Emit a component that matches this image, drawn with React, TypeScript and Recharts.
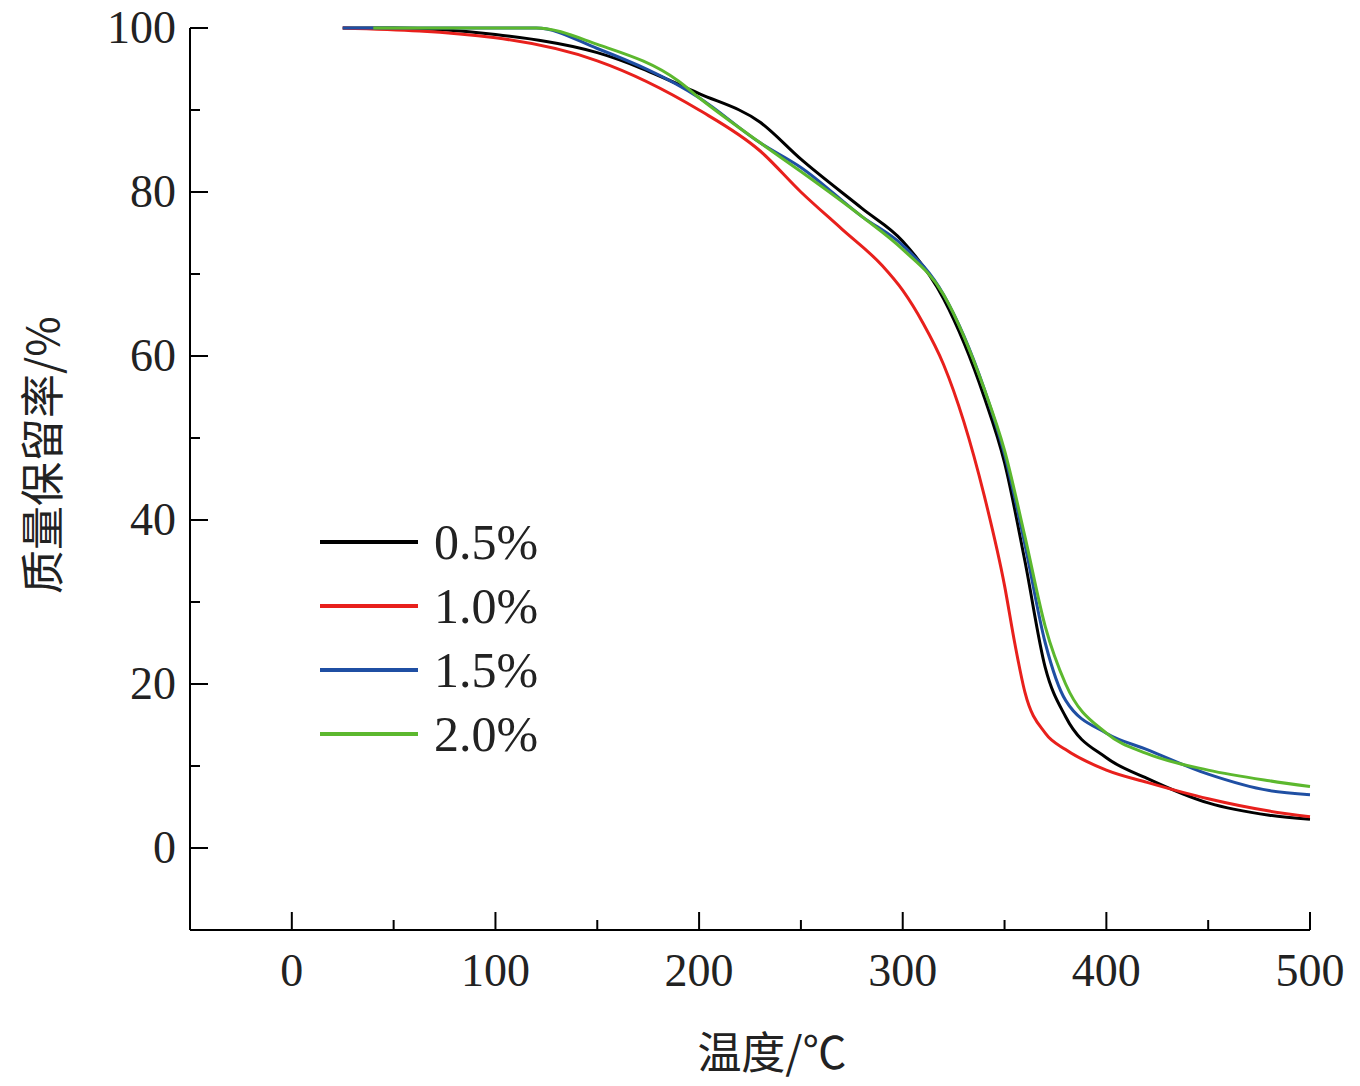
import React from 'react';
import { LineChart, Line, XAxis, YAxis } from 'recharts';

const temps05 = [25, 50, 100, 150, 200, 230, 250, 280, 300, 320, 340, 350, 360, 370, 380, 400, 420, 450, 480, 500];
const mass05 = [100, 100, 99.2, 97, 92, 88.5, 84, 78, 74, 67, 55, 47, 35, 22, 16, 11, 8.5, 5.5, 4, 3.5];
const temps10 = [25, 100, 150, 200, 230, 250, 270, 290, 300, 310, 320, 330, 340, 350, 355, 360, 370, 380, 400, 420, 450, 480, 500];
const mass10 = [100, 98.8, 96, 90, 85, 80, 75.5, 71, 68, 64, 59, 52, 43, 32, 25, 19, 14, 12, 9.5, 8, 6, 4.5, 3.8];
const temps15 = [25, 120, 150, 200, 230, 250, 280, 300, 320, 340, 350, 360, 370, 380, 400, 420, 450, 480, 500];
const mass15 = [100, 100, 97.5, 91.5, 86, 83, 77, 73.5, 67.5, 56, 48, 37, 25, 18, 14, 12, 9, 7, 6.5];
const temps20 = [40, 120, 150, 190, 200, 230, 250, 280, 300, 320, 340, 350, 360, 370, 380, 400, 420, 450, 480, 500];
const mass20 = [100, 100, 98, 93.5, 91.5, 86, 82.5, 77, 73, 67.5, 56, 48.5, 38, 27, 20, 14, 11.5, 9.5, 8.2, 7.5];

const seriesNames = ['0.5%', '1.0%', '1.5%', '2.0%'];
const seriesColors = ['#000000', '#e8201c', '#1f4fa3', '#5cb82e'];
const xTicks = [-50, 0, 50, 100, 150, 200, 250, 300, 350, 400, 450, 500];
const yTicks = [-10, 0, 10, 20, 30, 40, 50, 60, 70, 80, 90, 100];

const toRows = (t: number[], m: number[]) => t.map((x, i) => ({ t: x, m: m[i] }));
const series = [
  toRows(temps05, mass05),
  toRows(temps10, mass10),
  toRows(temps15, mass15),
  toRows(temps20, mass20),
];

const font = '"Liberation Serif", serif';

const XTick = ({ x, y, payload }: any) => {
  const v = payload.value;
  const major = v % 100 === 0;
  return (
    <g>
      <line x1={x} x2={x} y1={y} y2={y - (major ? 18 : 10)} stroke="#000" strokeWidth={2} />
      {major && (
        <text x={x} y={y + 56} textAnchor="middle" fontSize={46} fontFamily={font} fill="#222">
          {v}
        </text>
      )}
    </g>
  );
};

const YTick = ({ x, y, payload }: any) => {
  const v = payload.value;
  const major = v % 20 === 0 && v >= 0;
  return (
    <g>
      <line x1={x} x2={x + (major ? 18 : 10)} y1={y} y2={y} stroke="#000" strokeWidth={2} />
      {major && (
        <text x={x - 14} y={y + 15} textAnchor="end" fontSize={46} fontFamily={font} fill="#222">
          {v}
        </text>
      )}
    </g>
  );
};

export default function App() {
  return (
    <div style={{ position: 'relative', width: 1360, height: 1086, margin: -8, background: '#fff' }}>
      <LineChart width={1360} height={1086} margin={{ top: 28, right: 50, left: 110, bottom: 76 }}>
        <XAxis
          type="number"
          dataKey="t"
          domain={[-50, 500]}
          ticks={xTicks}
          height={80}
          tickSize={0}
          tickMargin={0}
          tick={<XTick />}
          axisLine={{ stroke: '#000', strokeWidth: 2 }}
          allowDuplicatedCategory={false}
        />
        <YAxis
          type="number"
          domain={[-10, 100]}
          ticks={yTicks}
          width={80}
          tickSize={0}
          tickMargin={0}
          tick={<YTick />}
          axisLine={{ stroke: '#000', strokeWidth: 2 }}
        />
        {series.map((d, i) => (
          <Line
            key={seriesNames[i]}
            data={d}
            dataKey="m"
            type="monotone"
            stroke={seriesColors[i]}
            strokeWidth={3}
            dot={false}
            isAnimationActive={false}
          />
        ))}
      </LineChart>
      {seriesNames.map((n, i) => (
        <div
          key={n}
          style={{ position: 'absolute', left: 320, top: 514 + i * 64, display: 'flex', alignItems: 'center' }}
        >
          <div style={{ width: 98, height: 4, background: seriesColors[i] }} />
          <span style={{ marginLeft: 16, fontSize: 50, fontFamily: font, color: '#222', lineHeight: '56px' }}>{n}</span>
        </div>
      ))}
      <div
        style={{
          position: 'absolute',
          left: 40,
          top: 455,
          transform: 'translate(-50%, -50%) rotate(-90deg)',
          whiteSpace: 'nowrap',
          fontSize: 44,
          fontFamily: '"Noto Sans CJK SC", sans-serif',
          color: '#222',
        }}
      >
        质量保留率/%
      </div>
      <div
        style={{
          position: 'absolute',
          left: 772,
          top: 1050,
          transform: 'translate(-50%, -50%)',
          whiteSpace: 'nowrap',
          fontSize: 44,
          fontFamily: '"Noto Sans CJK SC", sans-serif',
          color: '#222',
        }}
      >
        温度/℃
      </div>
    </div>
  );
}
